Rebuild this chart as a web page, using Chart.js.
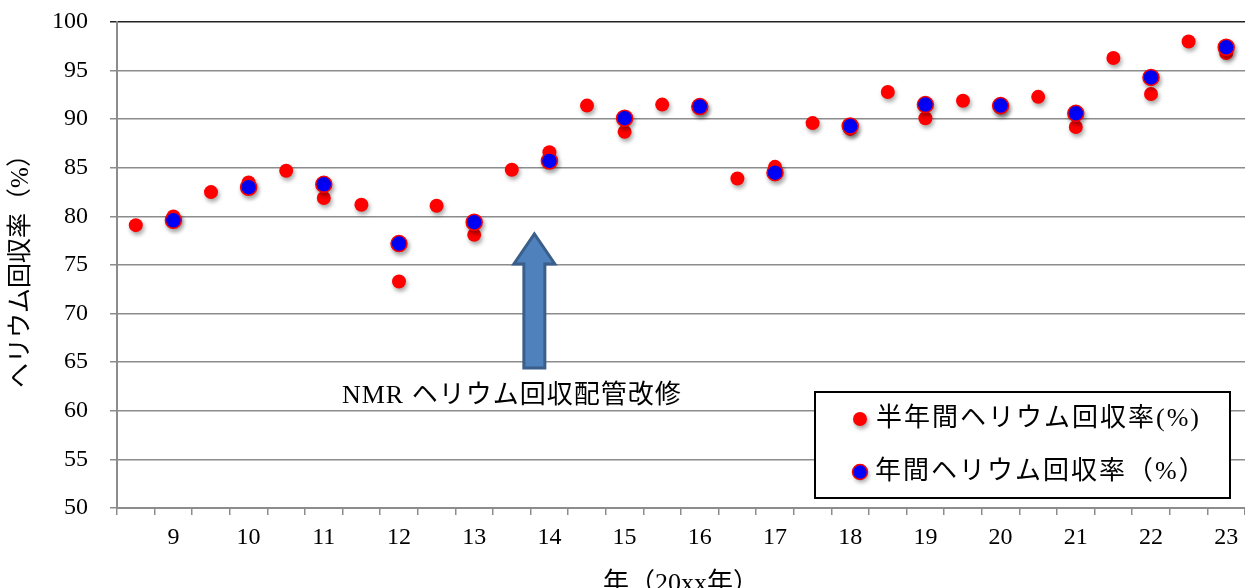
<!DOCTYPE html>
<html>
<head>
<meta charset="utf-8">
<script src="https://cdn.jsdelivr.net/npm/chart.js@4.4.0/dist/chart.umd.min.js"></script>
<style>
  html, body { margin: 0; padding: 0; background: #fff; }
  #wrap { width: 1245px; height: 588px; }
</style>
</head>
<body>
<div id="wrap"><canvas id="myChart"></canvas></div>
<script>
// half-year slots, the year label sits under the second half of each year
var categories = ['', '9', '', '10', '', '11', '', '12', '', '13', '', '14', '', '15', '', '16', '', '17', '', '18', '', '19', '', '20', '', '21', '', '22', '', '23'];
var halfYear = [79.1, 80.0, 82.5, 83.5, 84.7, 81.9, 81.2, 73.3, 81.1, 78.1, 84.8, 86.6, 91.4, 88.7, 91.5, 91.2, 83.9, 85.1, 89.6, 89.0, 92.8, 90.1, 91.9, 91.2, 92.3, 89.2, 96.3, 92.6, 98.0, 96.8];
var annual = [null, 79.6, null, 83.0, null, 83.3, null, 77.2, null, 79.4, null, 85.7, null, 90.1, null, 91.3, null, 84.5, null, 89.3, null, 91.5, null, 91.4, null, 90.6, null, 94.3, null, 97.4];
var seriesNames = ['半年間ヘリウム回収率(%)', '年間ヘリウム回収率（%）'];
var noteText = 'NMR ヘリウム回収配管改修';

var SERIF = "'Liberation Serif', 'Noto Sans CJK JP', serif";

// shadow under the dots
var shadowPlugin = {
    id: 'dotShadow',
    beforeDatasetsDraw: function(chart) {
        var c = chart.ctx;
        c.save();
        c.shadowColor = 'rgba(0,0,0,0.35)';
        c.shadowBlur = 4;
        c.shadowOffsetX = 1.5;
        c.shadowOffsetY = 3;
    },
    afterDatasetsDraw: function(chart) {
        chart.ctx.restore();
    }
};

// arrow + note, and the boxed legend
var extrasPlugin = {
    id: 'extras',
    afterDraw: function(chart) {
        var c = chart.ctx;
        var xs = chart.scales.x, ys = chart.scales.y;
        var ca = chart.chartArea;
        var step = xs.getPixelForValue(1) - xs.getPixelForValue(0);

        // arrow (between the 13 and 14 slots)
        var ax = xs.getPixelForValue(10) + 0.6 * step;
        var tip = ys.getPixelForValue(78.2);
        var headBase = ys.getPixelForValue(75.1);
        var bottom = ys.getPixelForValue(64.4);
        c.save();
        c.beginPath();
        c.moveTo(ax, tip);
        c.lineTo(ax + 20.5, headBase);
        c.lineTo(ax + 10.5, headBase);
        c.lineTo(ax + 10.5, bottom);
        c.lineTo(ax - 10.5, bottom);
        c.lineTo(ax - 10.5, headBase);
        c.lineTo(ax - 20.5, headBase);
        c.closePath();
        c.fillStyle = '#4f81bd';
        c.fill();
        c.lineWidth = 3;
        c.strokeStyle = '#3a5f8b';
        c.stroke();

        c.fillStyle = '#000';
        c.font = '26px ' + SERIF;
        c.letterSpacing = '1px';
        c.textAlign = 'center';
        c.textBaseline = 'alphabetic';
        c.fillText(noteText, xs.getPixelForValue(10), ys.getPixelForValue(60.8));
        c.restore();

        // legend box
        var bx = ca.left + 698, by = ca.top + 370, bw = 415, bh = 106;
        c.save();
        c.fillStyle = '#fff';
        c.fillRect(bx, by, bw, bh);
        c.lineWidth = 2;
        c.strokeStyle = '#000';
        c.strokeRect(bx, by, bw, bh);

        c.shadowColor = 'rgba(0,0,0,0.35)';
        c.shadowBlur = 4;
        c.shadowOffsetX = 1.5;
        c.shadowOffsetY = 3;
        c.beginPath();
        c.arc(bx + 45, by + 27, 7, 0, Math.PI * 2);
        c.fillStyle = '#ff0000';
        c.fill();
        c.beginPath();
        c.arc(bx + 45, by + 80, 7.5, 0, Math.PI * 2);
        c.fillStyle = '#0000ff';
        c.fill();
        c.shadowColor = 'transparent';
        c.lineWidth = 1.5;
        c.strokeStyle = '#ff0000';
        c.stroke();

        c.fillStyle = '#000';
        c.font = '26px ' + SERIF;
        c.letterSpacing = '2px';
        c.textAlign = 'left';
        c.textBaseline = 'middle';
        c.fillText(seriesNames[0], bx + 61, by + 27);
        c.fillText(seriesNames[1], bx + 60, by + 80);
        c.restore();
    }
};

var ctx = document.getElementById('myChart').getContext('2d');
var myChart = new Chart(ctx,
{
    type: 'line',
    data:
    {
        labels: categories,
        datasets:
        [
            {
                label: seriesNames[0],
                data: halfYear,
                showLine: false,
                pointRadius: 7,
                pointHoverRadius: 7,
                pointBackgroundColor: '#ff0000',
                pointBorderColor: '#ff0000',
                pointBorderWidth: 0,
                order: 1
            },
            {
                label: seriesNames[1],
                data: annual,
                showLine: false,
                pointRadius: 8,
                pointHoverRadius: 8,
                pointBackgroundColor: '#0000ff',
                pointBorderColor: '#ff0000',
                pointBorderWidth: 1.5,
                order: 0
            }
        ]
    },
    options:
    {
        responsive: true,
        maintainAspectRatio: false,
        animation: false,
        layout: { autoPadding: false, padding: { top: 22, right: -4, bottom: 0, left: 0 } },
        plugins:
        {
            legend: { display: false },
            tooltip: { enabled: false }
        },
        scales:
        {
            x:
            {
                offset: true,
                grid:
                {
                    offset: true,
                    drawOnChartArea: false,
                    tickLength: 7,
                    color: '#8c8c8c',
                    lineWidth: 1.5
                },
                border: { color: '#8c8c8c', width: 2 },
                ticks:
                {
                    autoSkip: false,
                    maxRotation: 0,
                    padding: 8,
                    color: '#000',
                    font: { family: SERIF, size: 24 }
                },
                title:
                {
                    display: true,
                    text: '年（20xx年）',
                    color: '#000',
                    padding: 0,
                    font: { family: SERIF, size: 26, lineHeight: 0.3 }
                },
                afterFit: function(scale) {
                    scale.height = 80;
                    scale.paddingLeft = 0;
                    scale.paddingRight = 0;
                }
            },
            y:
            {
                min: 50,
                max: 100,
                ticks:
                {
                    stepSize: 5,
                    padding: 22,
                    color: '#000',
                    font: { family: SERIF, size: 24 }
                },
                grid:
                {
                    tickLength: 7,
                    lineWidth: 1.5,
                    color: function(c) { return c.tick && c.tick.value === 100 ? '#222' : '#8c8c8c'; }
                },
                border: { color: '#8c8c8c', width: 2 },
                title:
                {
                    display: true,
                    text: 'ヘリウム回収率（%）',
                    color: '#000',
                    padding: { top: 6, bottom: 0 },
                    font: { family: SERIF, size: 25 }
                },
                afterFit: function(scale) {
                    scale.width = 117;
                    scale.paddingTop = 0;
                    scale.paddingBottom = 0;
                }
            }
        }
    },
    plugins: [shadowPlugin, extrasPlugin]
});
</script>
</body>
</html>
